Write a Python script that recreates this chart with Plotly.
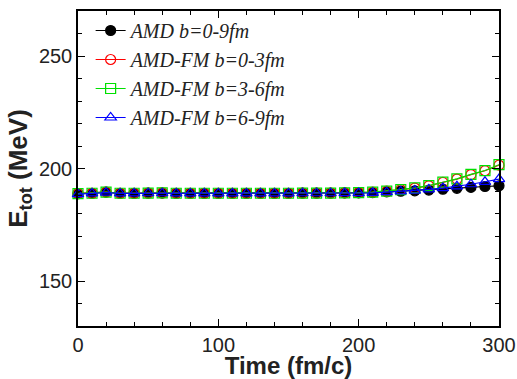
import plotly.graph_objects as go

time = list(range(0, 301, 10))

amd = [188.8, 189.0, 189.5, 189.0, 189.0, 189.1, 189.1, 189.0, 189.0, 189.0,
       189.0, 189.0, 189.0, 189.0, 189.0, 189.0, 189.1, 189.1, 189.1, 189.2,
       189.2, 189.3, 189.6, 189.9, 190.1, 190.4, 190.8, 191.2, 191.6, 192.0, 192.3]
fm_03 = [188.8, 189.0, 189.5, 189.0, 189.0, 189.1, 189.2, 189.0, 189.0, 189.0,
         189.0, 189.0, 189.0, 189.0, 189.0, 189.0, 189.1, 189.1, 189.1, 189.2,
         189.3, 189.5, 189.9, 190.6, 191.3, 192.3, 193.8, 195.3, 197.3, 199.0, 201.5]
fm_36 = [188.8, 189.0, 189.5, 189.0, 189.0, 189.1, 189.2, 189.0, 189.0, 189.0,
         189.0, 189.0, 189.0, 189.0, 189.0, 189.0, 189.1, 189.1, 189.1, 189.2,
         189.3, 189.5, 189.9, 190.6, 191.4, 192.4, 193.9, 195.4, 197.4, 199.1, 201.7]
fm_69 = [188.6, 188.9, 189.3, 188.9, 188.9, 189.0, 189.0, 188.9, 188.9, 188.9,
         188.9, 188.9, 188.9, 188.9, 188.9, 188.9, 189.0, 189.0, 189.0, 189.1,
         189.1, 189.2, 189.5, 189.8, 190.2, 190.7, 191.3, 192.1, 193.0, 194.1, 195.3]

names = ["AMD b=0-9fm", "AMD-FM b=0-3fm", "AMD-FM b=3-6fm", "AMD-FM b=6-9fm"]
series = [amd, fm_03, fm_36, fm_69]
colors = ["#000000", "#ff0000", "#00e000", "#0000ff"]
symbols = ["circle", "circle-open", "square-open", "triangle-up-open"]

fig = go.Figure()
for n, s, c, sym in zip(names, series, colors, symbols):
    fig.add_trace(go.Scatter(
        x=time, y=s, name=n, mode="lines+markers",
        line=dict(color=c, width=1.2),
        marker=dict(symbol=sym, color=c, size=10, line=dict(color=c, width=1.2)),
        cliponaxis=False,
    ))

axis_common = dict(
    showline=True, linecolor="black", linewidth=1.5, mirror="ticks",
    ticks="inside", ticklen=7, tickwidth=1, tickcolor="black",
    showgrid=False, zeroline=False, automargin=False,
    tickfont=dict(family="Liberation Sans, Arial", size=20, color="#222"),
)

fig.update_xaxes(
    range=[0, 300], tickvals=[0, 100, 200, 300],
    minor=dict(dtick=20, ticks="inside", ticklen=4, tickcolor="black", showgrid=False),
    title=dict(text="<b>Time (fm/c)</b>", font=dict(family="Liberation Sans, Arial", size=24, color="#222"), standoff=10),
    **axis_common,
)
fig.update_yaxes(
    range=[130, 270], tickvals=[150, 200, 250],
    minor=dict(dtick=10, ticks="inside", ticklen=4, tickcolor="black", showgrid=False),
    title=dict(text="<b>E<sub>tot</sub> (MeV)</b>", font=dict(family="Liberation Sans, Arial", size=26, color="#222"), standoff=4),
    **axis_common,
)

fig.update_layout(
    width=517, height=379,
    margin=dict(l=78, r=18, t=11, b=53),
    plot_bgcolor="white", paper_bgcolor="white",
    legend=dict(
        x=0.03, y=1.0, xanchor="left", yanchor="top",
        bgcolor="rgba(0,0,0,0)",
        font=dict(family="Liberation Serif, Times New Roman", size=20, style="italic", color="#222"),
        tracegroupgap=0,
    ),
)

fig.write_html("out.html")
